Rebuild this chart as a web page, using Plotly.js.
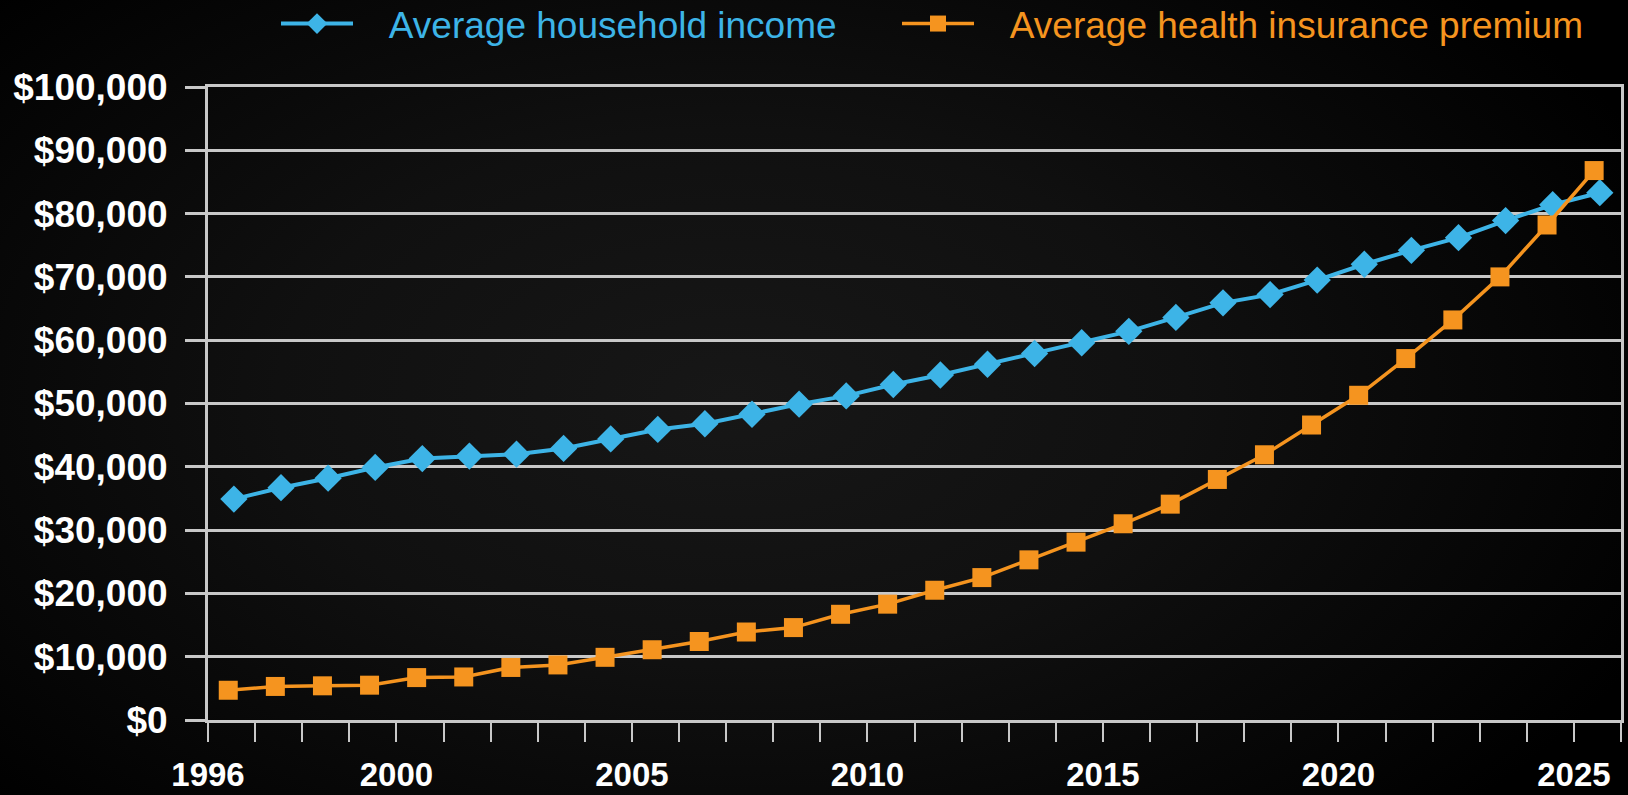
<!DOCTYPE html>
<html>
<head>
<meta charset="utf-8">
<script src="https://cdn.plot.ly/plotly-3.0.1.min.js"></script>
<style>
  html, body { margin:0; padding:0; width:1628px; height:795px; overflow:hidden;
    background:#000;
    background-image: radial-gradient(ellipse 62% 75% at 45% 50%, #171717 0%, #101010 45%, #060606 80%, #000 100%); }
  #chart { width:1628px; height:795px; }
</style>
</head>
<body>
<div id="chart"></div>
<script>
// ---- data ----
const years = [1996, 1997, 1998, 1999, 2000, 2001, 2002, 2003, 2004, 2005,
               2006, 2007, 2008, 2009, 2010, 2011, 2012, 2013, 2014, 2015,
               2016, 2017, 2018, 2019, 2020, 2021, 2022, 2023, 2024, 2025];
const householdIncome = [34900, 36700, 38200, 39900, 41300, 41700, 42000, 42900, 44400, 45900,
                         46800, 48300, 49900, 51200, 53000, 54500, 56200, 57900, 59600, 61400,
                         63600, 65900, 67200, 69500, 72000, 74200, 76200, 78900, 81400, 83300];
const insurancePremium = [4700, 5300, 5400, 5500, 6700, 6800, 8300, 8700, 9900, 11100,
                          12400, 13900, 14600, 16700, 18300, 20500, 22500, 25300, 28100, 31000,
                          34100, 38000, 41900, 46600, 51300, 57100, 63200, 70000, 78200, 86800];
const labeledYears = [1996, 2000, 2005, 2010, 2015, 2020, 2025];
const labeledYearText = ['1996', '2000', '2005', '2010', '2015', '2020', '2025'];
const seriesNames = ['Average household income', 'Average health insurance premium'];

// ---- styles ----
const BLUE = '#3db4e7';
const ORANGE = '#f5941f';
const GRID = '#c8c8c8';
const FONT = 'Liberation Sans, Arial, Helvetica, sans-serif';
const NB = '\u00A0\u00A0\u00A0';
const blueShift = 0.55, orangeShift = 0.43;   // marker placement inside each year slot

const traces = [
  {
    type: 'scatter', mode: 'lines+markers', legend: 'legend',
    name: NB + '<span style="color:' + BLUE + '">' + seriesNames[0] + '</span>',
    x: years.map(y => y + blueShift), y: householdIncome,
    line: { color: BLUE, width: 4 },
    marker: { symbol: 'diamond', size: 21, color: BLUE, line: { width: 0 } },
    hoverinfo: 'skip'
  },
  {
    type: 'scatter', mode: 'lines+markers', legend: 'legend2',
    name: NB + '<span style="color:' + ORANGE + '">' + seriesNames[1] + '</span>',
    x: years.map(y => y + orangeShift), y: insurancePremium,
    line: { color: ORANGE, width: 3.5 },
    marker: { symbol: 'square', size: 19, color: ORANGE, line: { width: 0 } },
    hoverinfo: 'skip'
  }
];

const legendBase = {
  orientation: 'h', xref: 'container', yref: 'paper',
  xanchor: 'left', y: 1.1485, yanchor: 'top',
  font: { family: FONT, size: 37, color: '#ffffff' },
  itemwidth: 72, bgcolor: 'rgba(0,0,0,0)', borderwidth: 0
};

const layout = {
  width: 1628, height: 795,
  margin: { l: 208, r: 7, t: 87, b: 75, pad: 0, autoexpand: false },
  paper_bgcolor: 'rgba(0,0,0,0)',
  plot_bgcolor: 'rgba(0,0,0,0)',
  showlegend: true,
  legend: Object.assign({}, legendBase, { x: 276 / 1628 }),
  legend2: Object.assign({}, legendBase, { x: 897 / 1628 }),
  xaxis: {
    range: [1996, 2026], automargin: false,
    tickmode: 'array', tickvals: labeledYears, ticktext: labeledYearText,
    ticks: 'outside', ticklen: 19, tickwidth: 2, tickcolor: GRID,
    minor: { tick0: 1996, dtick: 1, ticks: 'outside', ticklen: 19, tickwidth: 2, tickcolor: GRID, showgrid: false },
    showgrid: false, zeroline: false,
    showline: true, linecolor: GRID, linewidth: 3, mirror: true,
    tickfont: { family: FONT, size: 33, color: '#ffffff', weight: 'bold' },
    ticklabelstandoff: 4, fixedrange: true
  },
  yaxis: {
    range: [0, 100000], tick0: 0, dtick: 10000, automargin: false,
    tickprefix: '$', tickformat: ',d',
    showgrid: true, gridcolor: GRID, gridwidth: 3,
    ticks: 'outside', ticklen: 20, tickwidth: 3, tickcolor: GRID,
    showline: true, linecolor: GRID, linewidth: 3, mirror: true,
    zeroline: false,
    tickfont: { family: FONT, size: 37, color: '#ffffff', weight: 'bold' },
    ticklabelstandoff: 10, fixedrange: true
  }
};

Plotly.newPlot('chart', traces, layout, { displayModeBar: false, staticPlot: true });
</script>
</body>
</html>
